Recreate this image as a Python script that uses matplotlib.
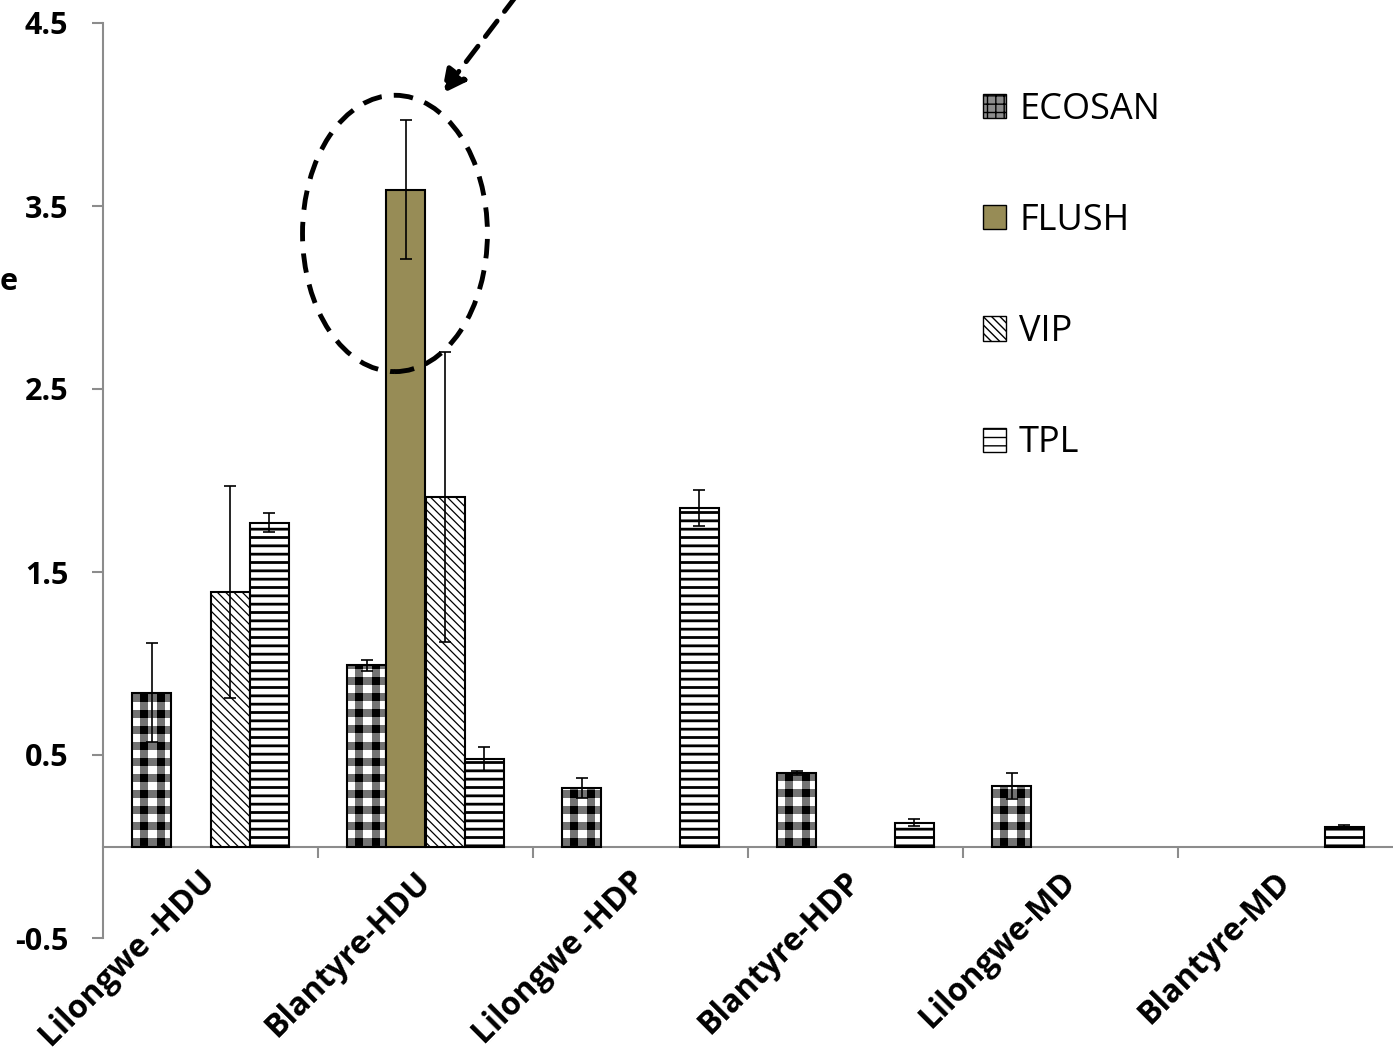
import numpy as np
import matplotlib
matplotlib.use("Agg")
import matplotlib.pyplot as plt
from matplotlib.patches import Ellipse, Patch

plt.rcParams['font.family'] = ['Open Sans', 'DejaVu Sans']

# data
categories = ["Lilongwe -HDU", "Blantyre-HDU", "Lilongwe -HDP",
              "Blantyre-HDP", "Lilongwe-MD", "Blantyre-MD"]
series = ["ECOSAN", "FLUSH", "VIP", "TPL"]
nan = np.nan
ecosan = [0.84, 0.99, 0.32, 0.40, 0.33, nan]
ecosan_err = [0.27, 0.03, 0.055, 0.012, 0.07, nan]
flush = [nan, 3.59, nan, nan, nan, nan]
flush_err = [nan, 0.38, nan, nan, nan, nan]
vip = [1.39, 1.91, nan, nan, nan, nan]
vip_err = [0.58, 0.79, nan, nan, nan, nan]
tpl = [1.77, 0.48, 1.85, 0.13, nan, 0.107]
tpl_err = [0.05, 0.065, 0.10, 0.02, nan, 0.012]

values = [ecosan, flush, vip, tpl]
errors = [ecosan_err, flush_err, vip_err, tpl_err]

W, H = 1393, 1052
fig = plt.figure(figsize=(W / 100, H / 100), dpi=100)
ax = fig.add_axes([103 / W, (H - 938) / H, 1 - 103 / W, (938 - 23) / H])
ax.set_xlim(-0.5, len(categories) - 0.5)
ax.set_ylim(-0.5, 4.5)

# pixels per data unit, used to size the gingham texture
px_x = (W - 103) / len(categories)
px_y = (938 - 23) / 5.0

width = 1 / 5.5
x = np.arange(len(categories))
flush_color = '#978C56'


def gingham(rows, cols, period=16):
    r = np.arange(rows)[:, None] % period
    c = np.arange(cols)[None, :] % period
    img = 1.0 - 0.55 * (r < period // 2) - 0.55 * (c >= period // 2)
    return np.clip(img, 0, 1)


for i, (vals, errs) in enumerate(zip(values, errors)):
    vals = np.array(vals, dtype=float)
    errs = np.array(errs, dtype=float)
    mask = ~np.isnan(vals)
    xpos = x[mask] + (i - 1.5) * width
    h = vals[mask]
    if series[i] == "ECOSAN":
        bars = ax.bar(xpos, h, width, color='white', edgecolor='none', zorder=2)
        for rect in bars:
            rows = int(np.ceil(rect.get_height() * px_y)) + 16
            cols = int(np.ceil(width * px_x)) + 16
            img = gingham(rows, cols)
            x0 = rect.get_x()
            im = ax.imshow(img, cmap='gray', vmin=0, vmax=1, origin='lower',
                           extent=(x0, x0 + cols / px_x, 0, rows / px_y),
                           aspect='auto', interpolation='nearest', zorder=2.1)
            im.set_clip_path(rect)
        ax.bar(xpos, h, width, facecolor='none', edgecolor='black',
               linewidth=1.5, zorder=3)
    elif series[i] == "FLUSH":
        ax.bar(xpos, h, width, color=flush_color, edgecolor='black',
               linewidth=1.5, zorder=3)
    elif series[i] == "VIP":
        bars = ax.bar(xpos, h, width, color='white', edgecolor='black',
                      hatch='\\\\\\\\', linewidth=1.5, zorder=3)
        for b in bars:
            if hasattr(b, 'set_hatch_linewidth'):
                b.set_hatch_linewidth(0.9)
    else:
        bars = ax.bar(xpos, h, width, color='white', edgecolor='black',
                      hatch='--', linewidth=1.5, zorder=3)
        for b in bars:
            if hasattr(b, 'set_hatch_linewidth'):
                b.set_hatch_linewidth(2.0)
    ax.errorbar(xpos, h, yerr=errs[mask], fmt='none', ecolor='black',
                elinewidth=1.2, capsize=4.5, capthick=1.2, zorder=4)

# axes styling
for s in ['top', 'right']:
    ax.spines[s].set_visible(False)
ax.spines['bottom'].set_position(('data', 0))
ax.spines['bottom'].set_color('#8c8c8c')
ax.spines['left'].set_color('#8c8c8c')
ax.spines['bottom'].set_linewidth(1.5)
ax.spines['left'].set_linewidth(1.5)

ax.set_yticks([-0.5, 0.5, 1.5, 2.5, 3.5, 4.5])
ax.set_yticklabels(['-0.5', '0.5', '1.5', '2.5', '3.5', '4.5'],
                   fontsize=22, fontweight='bold')
ax.tick_params(axis='y', direction='out', length=8, width=1.5,
               color='#8c8c8c', pad=17)

ax.set_xticks(x)
ax.set_xticklabels(categories, fontsize=23, fontweight='bold',
                   rotation=45, ha='right', va='center', rotation_mode='anchor')
ax.set_xticks(np.arange(0.5, len(categories) - 0.5, 1), minor=True)
ax.tick_params(axis='x', which='major', length=0, pad=22)
ax.tick_params(axis='x', which='minor', direction='out', length=8,
               width=1.5, color='#8c8c8c')

# truncated y label
fig.text(0.0, (H - 282) / H, 'e', fontsize=22, fontweight='bold',
         ha='left', va='center')

# highlight around the FLUSH bar
ell = Ellipse((0.858, 3.35), 0.86, 1.51, fill=False, edgecolor='black',
              linewidth=3.5, linestyle=(0, (4, 2.5)), zorder=6, clip_on=False)
ax.add_patch(ell)
ax.annotate('', xy=(1.067, 4.10), xytext=(1.43, 4.66),
            arrowprops=dict(arrowstyle='-|>', color='black', lw=3.5,
                            linestyle=(0, (4, 2.5)), mutation_scale=36),
            annotation_clip=False, zorder=6)

# legend
handles = [
    Patch(facecolor='0.55', edgecolor='black', hatch='++', label='ECOSAN'),
    Patch(facecolor=flush_color, edgecolor='black', label='FLUSH'),
    Patch(facecolor='white', edgecolor='black', hatch='\\\\\\\\', label='VIP'),
    Patch(facecolor='white', edgecolor='black', hatch='--', label='TPL'),
]
ax.legend(handles=handles, loc='upper left', frameon=False,
          bbox_to_anchor=(983 / W, (H - 92) / H), bbox_transform=fig.transFigure,
          fontsize=26, labelspacing=2.08, handlelength=0.65, handleheight=0.65,
          handletextpad=0.35, borderpad=0, borderaxespad=0)

fig.savefig('out.png', dpi=100)
